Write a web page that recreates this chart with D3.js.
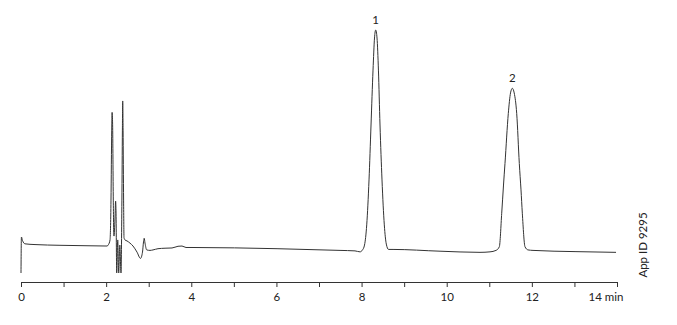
<!DOCTYPE html>
<html>
<head>
<meta charset="utf-8">
<script src="https://cdn.jsdelivr.net/npm/d3@7"></script>
<style>
  body { margin: 0; background: #fff; }
  svg { display: block; }
  text { font-family: Lato, "Open Sans", sans-serif; fill: #222; }
</style>
</head>
<body>
<svg id="chart" width="677" height="325"></svg>
<script>
// Retention time (min)
const times = [
  0.000, 0.010, 0.035, 0.094, 0.329, 0.916, 1.621, 2.020,
  2.055, 2.091, 2.114, 2.131, 2.140, 2.152, 2.168, 2.180,
  2.185, 2.208, 2.222, 2.233, 2.248, 2.272, 2.295, 2.321, 2.349,
  2.370, 2.382, 2.389, 2.398, 2.410, 2.420,
  2.443, 2.490, 2.560, 2.631, 2.725, 2.807, 2.854, 2.878, 2.894, 2.913, 2.953,
  3.030, 3.101, 3.218, 3.383, 3.547, 3.688, 3.782, 3.876, 4.017,
  6.014, 7.494, 7.846,
  7.963, 8.022, 8.069, 8.121, 8.175, 8.222, 8.269, 8.304, 8.332,
  8.363, 8.396, 8.433, 8.480, 8.534, 8.581, 8.633, 8.739,
  9.843, 10.782,
  11.017, 11.158, 11.236, 11.292, 11.334, 11.369, 11.447, 11.499, 11.541,
  11.585, 11.644, 11.705, 11.745, 11.776, 11.839, 11.910, 12.027,
  13.014, 13.977
];
// Detector signal (relative units)
const signal = [
  0.0, 14.8, 13.4, 12.0, 11.7, 11.4, 11.2, 11.1,
  11.7, 13.6, 30.0, 58.8, 66.1, 61.0, 30.0, 15.6,
  15.2, 22.6, 29.6, 24.3, 0.0, 13.6, 0.0, 11.5, 0.0,
  30.0, 58.8, 70.8, 58.8, 30.0, 14.5,
  13.6, 13.2, 12.3, 11.1, 8.6, 6.0, 8.6, 12.8, 14.3, 12.3, 9.5,
  9.3, 9.5, 10.0, 10.2, 10.3, 11.0, 11.1, 10.5, 10.5,
  10.0, 9.3, 9.1,
  8.7, 9.5, 11.5, 19.8, 38.3, 60.9, 83.5, 96.7, 100.0,
  96.7, 83.5, 60.9, 38.3, 19.8, 11.9, 9.7, 9.7,
  8.97, 8.5,
  8.7, 9.3, 10.8, 24.6, 36.2, 45.1, 65.7, 74.1, 76.0,
  74.1, 65.7, 45.1, 34.2, 24.6, 10.8, 9.5, 9.3,
  8.8, 8.5
];
// Peak labels
const peakNames = ["1", "2"];
const peakTimes = [8.332, 11.541];
const peakHeights = [100.0, 76.0];
// Axis ticks
const tickValues = [0,1,2,3,4,5,6,7,8,9,10,11,12,13,14];
const tickLabels = ["0","","2","","4","","6","","8","","10","","12","","14 min"];
const appId = "App ID 9295";

const svg = d3.select("#chart");
const x = d3.scaleLinear().domain([0, 14]).range([21, 617]);
const y = d3.scaleLinear().domain([0, 100]).range([273, 30]);

const data = times.map((t, i) => ({ t, s: signal[i] }));

svg.append("path")
  .datum(data)
  .attr("fill", "none")
  .attr("stroke", "#333")
  .attr("stroke-width", 1)
  .attr("stroke-linejoin", "round")
  .attr("d", d3.line().x(d => x(d.t)).y(d => y(d.s)).curve(d3.curveMonotoneX));

// Peak labels
svg.selectAll("text.peak")
  .data(peakNames)
  .join("text")
  .attr("class", "peak")
  .attr("x", (d, i) => x(peakTimes[i]))
  .attr("y", (d, i) => y(peakHeights[i]) - 6)
  .attr("text-anchor", "middle")
  .attr("font-size", 11.5)
  .text(d => d);

// X axis
const axis = d3.axisBottom(x)
  .tickValues(tickValues)
  .tickSize(5)
  .tickSizeOuter(0)
  .tickPadding(6)
  .tickFormat((d, i) => tickLabels[i]);

const gAxis = svg.append("g")
  .attr("transform", "translate(0,282)")
  .call(axis);
gAxis.select(".domain").attr("stroke", "#333").attr("stroke-width", 1);
gAxis.selectAll(".tick line").attr("stroke", "#333");
gAxis.selectAll(".tick text")
  .attr("font-size", 11.5)
  .attr("font-family", "Lato, 'Open Sans', sans-serif")
  .attr("fill", "#222");
gAxis.selectAll(".tick text")
  .filter((d, i) => i === tickValues.length - 1)
  .attr("text-anchor", "end")
  .attr("x", 6);

// App ID (vertical)
svg.append("text")
  .attr("transform", "translate(647,245) rotate(-90)")
  .attr("text-anchor", "middle")
  .attr("font-size", 11.5)
  .attr("fill", "#333")
  .text(appId);
</script>
</body>
</html>
